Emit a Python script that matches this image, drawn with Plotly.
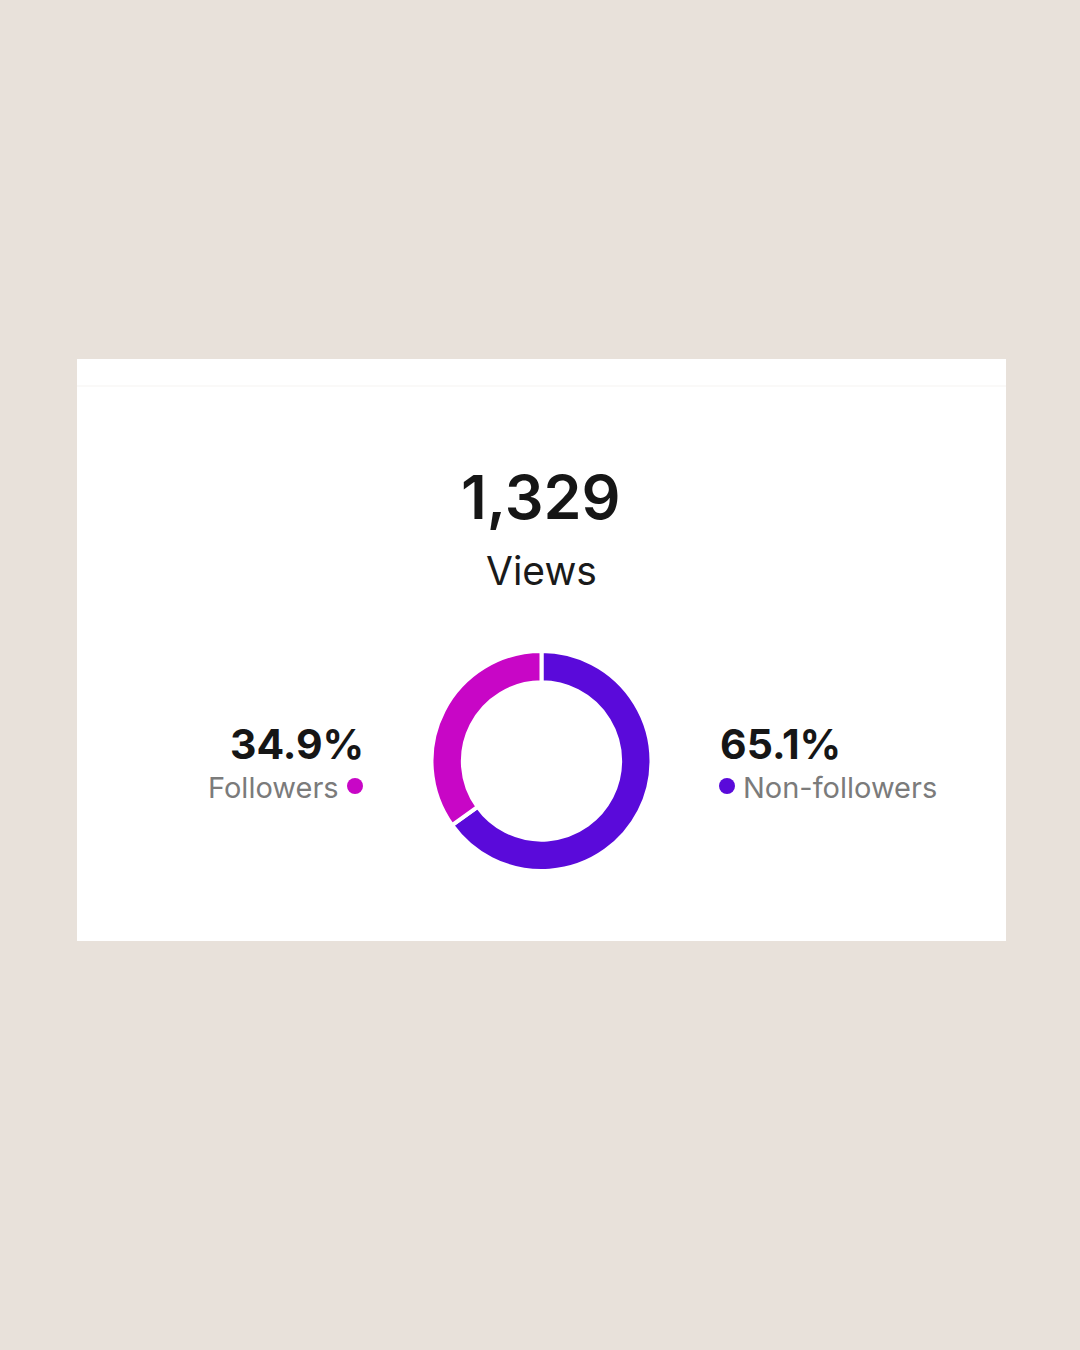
import plotly.graph_objects as go

W, H = 1080, 1350

total_views = "1,329"
total_label = "Views"
categories = ["Non-followers", "Followers"]
shares = [65.1, 34.9]
colors = ["#5A0ADA", "#C806C6"]

BG = "#E8E1DA"
CARD = "#FFFFFF"

def px(x):
    return x / W

def py(y):
    return 1 - y / H

fig = go.Figure()

# donut
cx, cy, r = 541.5, 761, 110
fig.add_trace(go.Pie(
    labels=categories,
    values=shares,
    sort=False,
    direction="clockwise",
    rotation=0,
    hole=0.715,
    marker=dict(colors=colors, line=dict(color="white", width=4)),
    textinfo="none",
    hoverinfo="label+percent",
    showlegend=False,
    domain=dict(x=[px(cx - r), px(cx + r)], y=[py(cy + r), py(cy - r)]),
))

shapes = [
    dict(type="rect", xref="paper", yref="paper",
         x0=px(77), x1=px(1006), y0=py(941), y1=py(359),
         fillcolor=CARD, line=dict(width=0), layer="below"),
    dict(type="line", xref="paper", yref="paper",
         x0=px(77), x1=px(1006), y0=py(386), y1=py(386),
         line=dict(color="#FAF9F8", width=2), layer="below"),
]

# legend dots
dot_r = 8
for (dx, dy), col in [((727, 786), colors[0]), ((355, 786), colors[1])]:
    shapes.append(dict(type="circle", xref="paper", yref="paper",
                       x0=px(dx - dot_r), x1=px(dx + dot_r),
                       y0=py(dy + dot_r), y1=py(dy - dot_r),
                       fillcolor=col, line=dict(width=0)))

FONT = "Inter, Roboto, 'Noto Sans', sans-serif"
annotations = [
    dict(text=total_views, x=px(541), y=py(497), xref="paper", yref="paper",
         showarrow=False, xanchor="center", yanchor="middle",
         font=dict(family=FONT, size=61, color="#161616", weight=600)),
    dict(text=total_label, x=px(541), y=py(570), xref="paper", yref="paper",
         showarrow=False, xanchor="center", yanchor="middle",
         font=dict(family=FONT, size=39, color="#1a1a1a", weight=400)),
    # followers (left)
    dict(text=f"{shares[1]}%", x=px(366), y=py(744), xref="paper", yref="paper",
         showarrow=False, xanchor="right", yanchor="middle",
         font=dict(family=FONT, size=41, color="#161616", weight=700)),
    dict(text=categories[1], x=px(341), y=py(787), xref="paper", yref="paper",
         showarrow=False, xanchor="right", yanchor="middle",
         font=dict(family=FONT, size=29, color="#7b7b7b", weight=400)),
    # non-followers (right)
    dict(text=f"{shares[0]}%", x=px(718), y=py(744), xref="paper", yref="paper",
         showarrow=False, xanchor="left", yanchor="middle",
         font=dict(family=FONT, size=41, color="#161616", weight=700)),
    dict(text=categories[0], x=px(741), y=py(787), xref="paper", yref="paper",
         showarrow=False, xanchor="left", yanchor="middle",
         font=dict(family=FONT, size=29, color="#7b7b7b", weight=400)),
]

fig.update_layout(
    width=W, height=H,
    margin=dict(l=0, r=0, t=0, b=0),
    paper_bgcolor=BG, plot_bgcolor=BG,
    shapes=shapes, annotations=annotations,
    showlegend=False,
)

fig.write_html("out.html", config={"displayModeBar": False},
               post_script="document.body.style.margin='0';document.body.style.background='#E8E1DA';")
